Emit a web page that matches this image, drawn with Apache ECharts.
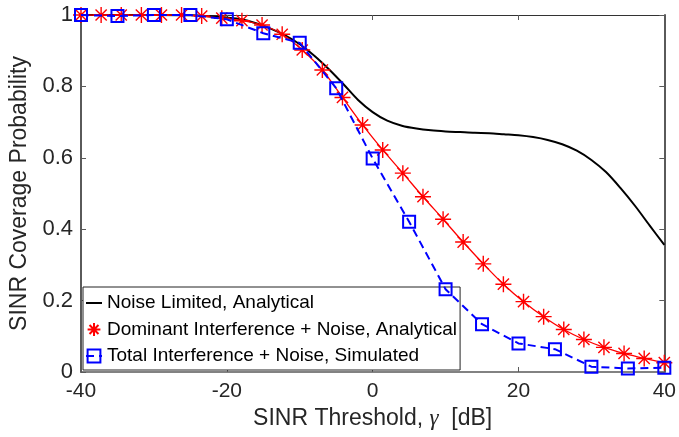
<!DOCTYPE html>
<html>
<head>
<meta charset="utf-8">
<script src="https://cdn.jsdelivr.net/npm/echarts@6/dist/echarts.min.js"></script>
<style>html,body{margin:0;padding:0;background:#fff}#c{width:679px;height:437px}</style>
</head>
<body>
<div id="c"></div>
<script>
// ---- data ----
const noiseX = [-40,-30,-25,-22,-20,-18,-16,-14,-12,-10,-8,-6,-4,-2,0,2,4,6,8,10,12,14,16,18,20,22,24,26,28,30,32,34,36,38,40];
const noiseY = [1.0,1.0,0.999,0.996,0.993,0.988,0.977,0.962,0.943,0.918,0.886,0.848,0.806,0.762,0.728,0.704,0.690,0.682,0.677,0.674,0.672,0.670,0.669,0.666,0.663,0.658,0.650,0.638,0.620,0.594,0.560,0.515,0.465,0.410,0.356];
const domX = [-40,-37.24,-34.48,-31.72,-28.97,-26.21,-23.45,-20.69,-17.93,-15.17,-12.41,-9.66,-6.90,-4.14,-1.38,1.38,4.14,6.90,9.66,12.41,15.17,17.93,20.69,23.45,26.21,28.97,31.72,34.48,37.24,40];
const domY = [1,1,1,1,1,1,0.997,0.991,0.984,0.972,0.946,0.902,0.846,0.769,0.692,0.622,0.557,0.491,0.428,0.364,0.303,0.246,0.197,0.155,0.119,0.091,0.069,0.052,0.038,0.026];
const totX = [-40,-35,-30,-25,-20,-15,-10,-5,0,5,10,15,20,25,30,35,40];
const totY = [1.0,0.997,1.0,1.0,0.988,0.949,0.922,0.795,0.598,0.421,0.232,0.134,0.080,0.064,0.015,0.010,0.012];
const seriesNames = ['Noise Limited, Analytical','Dominant Interference + Noise, Analytical','Total Interference + Noise, Simulated'];
const xTicks = {min:-40, max:40, step:20};
const yTicks = {min:0, max:1, step:0.2};

const zip = (a,b) => a.map((v,i)=>[v,b[i]]);
const FONT = 'Liberation Sans';
const axisCol = '#5a5a5a';
const starPath = 'path://M5,0 L5,10 M0,5 L10,5 M1.5,1.5 L8.5,8.5 M1.5,8.5 L8.5,1.5';

const chart = echarts.init(document.getElementById('c'), null, {renderer:'canvas'});
chart.setOption({
  animation:false,
  backgroundColor:'#fff',
  grid:{left:81, right:12, top:15, bottom:65},
  xAxis:[{
    type:'value', min:xTicks.min, max:xTicks.max, interval:xTicks.step,
    name:'SINR Threshold, {g|γ}  [dB]', nameLocation:'middle', nameGap:35,
    nameTextStyle:{fontFamily:FONT, fontSize:23, color:'#262626',
      rich:{g:{fontFamily:'Liberation Serif', fontStyle:'italic', fontSize:23, color:'#262626'}}},
    axisLine:{show:true, onZero:false, lineStyle:{color:axisCol, width:1.5}},
    axisTick:{show:true, inside:true, length:5, lineStyle:{color:axisCol}},
    axisLabel:{fontFamily:FONT, fontSize:21, color:'#262626', margin:9},
    splitLine:{show:false}
  },{
    type:'value', position:'top', min:xTicks.min, max:xTicks.max, interval:xTicks.step,
    axisLine:{show:true, onZero:false, lineStyle:{color:'#333', width:1}},
    axisTick:{show:true, inside:true, length:5, lineStyle:{color:axisCol}},
    axisLabel:{show:false}, splitLine:{show:false}
  }],
  yAxis:[{
    type:'value', min:yTicks.min, max:yTicks.max, interval:yTicks.step,
    name:'SINR Coverage Probability', nameLocation:'middle', nameGap:45,
    nameTextStyle:{fontFamily:FONT, fontSize:23, color:'#262626'},
    axisLine:{show:true, onZero:false, lineStyle:{color:axisCol, width:2}},
    axisTick:{show:true, inside:true, length:5, lineStyle:{color:axisCol}},
    axisLabel:{fontFamily:FONT, fontSize:22, color:'#262626', margin:8},
    splitLine:{show:false}
  },{
    type:'value', position:'right', min:yTicks.min, max:yTicks.max, interval:yTicks.step,
    axisLine:{show:true, onZero:false, lineStyle:{color:axisCol, width:2}},
    axisTick:{show:true, inside:true, length:5, lineStyle:{color:axisCol}},
    axisLabel:{show:false}, splitLine:{show:false}
  }],
  legend:{
    orient:'vertical', left:83, top:287,
    backgroundColor:'#fff', borderColor:'#222', borderWidth:1, borderRadius:0,
    padding:[6,3,4,2], itemGap:6.5, itemWidth:16, itemHeight:16,
    textStyle:{fontFamily:FONT, fontSize:19, color:'#000', lineHeight:20},
    data:[
      {name:seriesNames[0], itemStyle:{color:'rgba(0,0,0,0)', borderColor:'rgba(0,0,0,0)', borderWidth:0}},
      {name:seriesNames[1], lineStyle:{opacity:0}},
      {name:seriesNames[2]}
    ]
  },
  series:[{
    name:seriesNames[0], type:'line', data:zip(noiseX,noiseY), showSymbol:false, symbol:'none',
    smooth:0.3, lineStyle:{color:'#000', width:2}, itemStyle:{color:'#000'}, z:3
  },{
    name:seriesNames[1], type:'line', data:zip(domX,domY), symbol:starPath, symbolSize:16,
    smooth:0.3, lineStyle:{color:'#ff0000', width:1.3},
    itemStyle:{color:'#ff0000', borderColor:'#ff0000', borderWidth:1.4}, z:4
  },{
    name:seriesNames[2], type:'line', data:zip(totX,totY), symbol:'rect', symbolSize:12,
    lineStyle:{color:'#0000ff', width:2, type:[8,5]},
    itemStyle:{color:'rgba(0,0,0,0)', borderColor:'#0000ff', borderWidth:2}, z:5
  }]
});
</script>
</body>
</html>
